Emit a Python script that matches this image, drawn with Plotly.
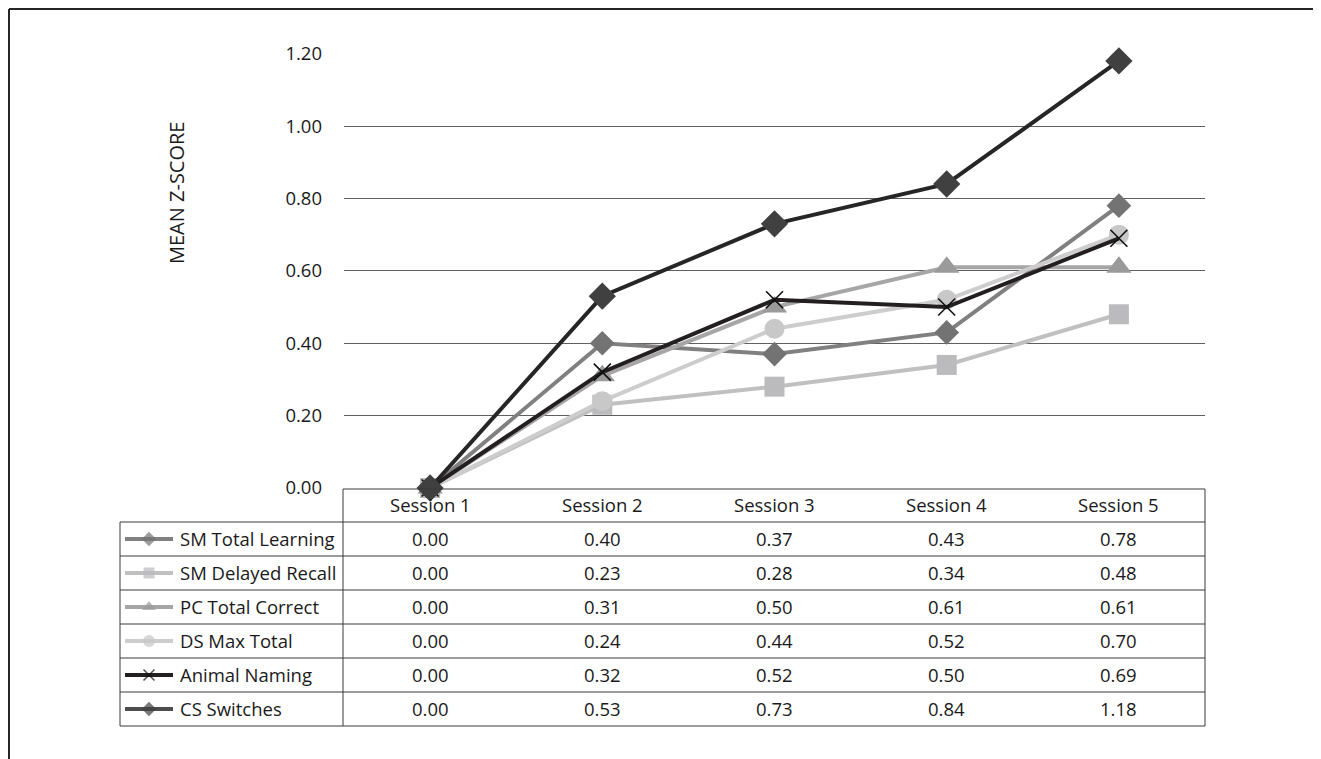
import plotly.graph_objects as go

sessions = ["Session 1", "Session 2", "Session 3", "Session 4", "Session 5"]
series_names = ["SM Total Learning", "SM Delayed Recall", "PC Total Correct",
                "DS Max Total", "Animal Naming", "CS Switches"]
sm_total_learning = [0.00, 0.40, 0.37, 0.43, 0.78]
sm_delayed_recall = [0.00, 0.23, 0.28, 0.34, 0.48]
pc_total_correct = [0.00, 0.31, 0.50, 0.61, 0.61]
ds_max_total = [0.00, 0.24, 0.44, 0.52, 0.70]
animal_naming = [0.00, 0.32, 0.52, 0.50, 0.69]
cs_switches = [0.00, 0.53, 0.73, 0.84, 1.18]
y_ticks = [0.0, 0.2, 0.4, 0.6, 0.8, 1.0, 1.2]

values = [sm_total_learning, sm_delayed_recall, pc_total_correct,
          ds_max_total, animal_naming, cs_switches]

styles = [
    dict(line="#808080", mcolor="#737373", symbol="diamond", size=19, ksize=11, mline=0),
    dict(line="#c0c0c0", mcolor="#bbbbbe", symbol="square", size=20, ksize=11, mline=0),
    dict(line="#a6a6a6", mcolor="#9a9a9a", symbol="triangle-up", size=22, ksize=12, mline=0),
    dict(line="#cdcdcd", mcolor="#c8c8c8", symbol="circle", size=20, ksize=12, mline=0),
    dict(line="#231f20", mcolor="#111111", symbol="x-thin", size=17, ksize=11, mline=1.6),
    dict(line="#262626", mcolor="#404040", symbol="diamond", size=21, ksize=11, mline=0),
]
key_line = ["#808080", "#c0c0c0", "#a6a6a6", "#cdcdcd", "#231f20", "#4d4d4d"]

W, H = 1321, 759
OFF = 8  # page body margin: the figure's div starts 8px in from the window corner
FONT = "Open Sans"
TXT = "#1a1a1a"
FS = 18.5

fig = go.Figure()

# main data
for name, vals, st in zip(series_names, values, styles):
    fig.add_trace(go.Scatter(
        x=sessions, y=vals, name=name, mode="lines+markers",
        line=dict(color=st["line"], width=4),
        marker=dict(symbol=st["symbol"], size=st["size"], color=st["mcolor"],
                    line=dict(width=st["mline"], color=st["mcolor"])),
        cliponaxis=False, showlegend=False, xaxis="x", yaxis="y"))

# table geometry (window pixel space)
tbl_left, col_split, tbl_right = 120, 343, 1205
hdr_top, row_top, row_h = 489, 522, 34
n_rows = len(series_names)

shapes = []
def pline(x0, y0, x1, y1, color="#3a3a3a", width=1):
    shapes.append(dict(type="line", xref="x2", yref="y2", x0=x0, y0=y0, x1=x1, y1=y1,
                       line=dict(color=color, width=width), layer="below"))

pline(col_split, hdr_top, tbl_right, hdr_top)
for i in range(n_rows + 1):
    y = row_top + i * row_h
    pline(tbl_left, y, tbl_right, y)
pline(col_split, hdr_top, col_split, row_top + n_rows * row_h)
pline(tbl_right, hdr_top, tbl_right, row_top + n_rows * row_h)
pline(tbl_left, row_top, tbl_left, row_top + n_rows * row_h)

# outer frame
pline(9, 9, 1318, 9, color="#262626", width=2)
pline(9, 9, 9, 780, color="#262626", width=2)
pline(1318, 9, 1318, 780, color="#262626", width=2)

annotations = []
# header session labels
for s in sessions:
    annotations.append(dict(x=s, xref="x", y=(hdr_top + row_top) / 2 - 1, yref="y2",
                            text=s, showarrow=False, font=dict(family=FONT, size=FS, color=TXT)))

# rows
for i, (name, vals, st) in enumerate(zip(series_names, values, styles)):
    yc = row_top + i * row_h + row_h / 2
    fig.add_trace(go.Scatter(
        x=[125, 149, 173], y=[yc, yc, yc], mode="lines+markers",
        line=dict(color=key_line[i], width=4),
        marker=dict(symbol=st["symbol"], size=[0, st["ksize"], 0], color=st["mcolor"],
                    line=dict(width=st["mline"], color=st["mcolor"])),
        showlegend=False, xaxis="x2", yaxis="y2", hoverinfo="skip"))
    annotations.append(dict(x=178, xref="x2", y=yc - 1, yref="y2", xanchor="left",
                            text=name, showarrow=False, font=dict(family=FONT, size=FS, color=TXT)))
    for s, v in zip(sessions, vals):
        annotations.append(dict(x=s, xref="x", y=yc - 1, yref="y2", text=f"{v:.2f}",
                                showarrow=False, font=dict(family=FONT, size=FS, color=TXT)))

# y axis title
annotations.append(dict(x=176, xref="x2", y=193, yref="y2", text="MEAN Z-SCORE",
                        textangle=-90, showarrow=False,
                        font=dict(family=FONT, size=20, color=TXT)))

x0_px, x1_px = 344 - OFF, 1205 - OFF
y0_px, y1_px = 488 - OFF, 53.7 - OFF
fig.update_layout(
    width=W, height=H, margin=dict(l=0, r=0, t=0, b=0, pad=0), autosize=False,
    paper_bgcolor="white", plot_bgcolor="rgba(0,0,0,0)",
    font=dict(family=FONT, size=FS, color=TXT),
    xaxis=dict(domain=[x0_px / W, x1_px / W], type="category", categoryarray=sessions,
               range=[-0.5, 4.5], showgrid=False, showticklabels=False, zeroline=False,
               showline=False, anchor="y", automargin=False),
    yaxis=dict(domain=[1 - y0_px / H, 1 - y1_px / H], range=[0, 1.2], tickvals=y_ticks,
               tickformat=".2f", showgrid=True, gridcolor="#5f5f5f", gridwidth=1,
               zeroline=False, showline=False, ticks="", ticklabelstandoff=21,
               tickfont=dict(family=FONT, size=FS, color=TXT), anchor="x", automargin=False),
    xaxis2=dict(domain=[0, 1], range=[OFF, OFF + W], visible=False, anchor="y2",
                fixedrange=True, automargin=False),
    yaxis2=dict(domain=[0, 1], range=[OFF + H, OFF], visible=False, anchor="x2",
                fixedrange=True, automargin=False),
    shapes=shapes, annotations=annotations,
)

fig.write_html("out.html")
